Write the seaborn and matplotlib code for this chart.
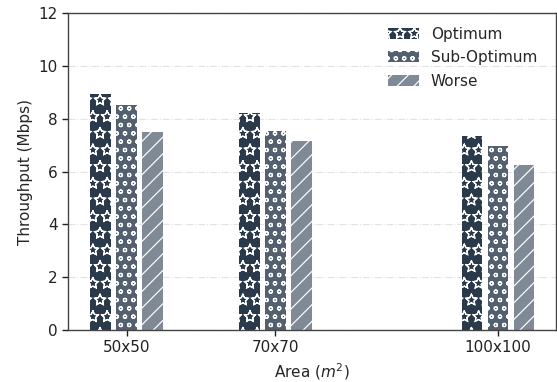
import matplotlib
matplotlib.use("Agg")
import numpy as np
import matplotlib.pyplot as plt
import matplotlib.hatch as mhatch
from matplotlib.path import Path
import seaborn as sns
import pandas as pd

areas = [50, 70, 100]
area_labels = ["50x50", "70x70", "100x100"]
series = ["Optimum", "Sub-Optimum", "Worse"]
optimum = [8.94, 8.20, 7.35]
sub_optimum = [8.52, 7.54, 6.97]
worse = [7.50, 7.14, 6.26]

colors = ["#2a3a4b", "#52606f", "#808a96"]
hatches = ["*", "oo", "//"]


# hollow (outlined) star hatch with the reference's spacing
class HollowStars(mhatch.HatchPatternBase):
    def __init__(self, hatch, density):
        n = hatch.count('*')
        self.nrows = 6 * n
        self.ncols = 7 * n
        star = Path.unit_regular_star(5)
        self.sv = star.vertices
        c = np.full(len(self.sv), Path.LINETO, dtype=Path.code_type)
        c[0] = Path.MOVETO
        self.sc = c
        if n == 0:
            self.num_vertices = 0
        else:
            nshapes = 0
            for row in range(self.nrows + 1):
                nshapes += (self.ncols + 1) if row % 2 == 0 else self.ncols
            self.num_vertices = nshapes * len(self.sv) * 2

    def set_vertices_and_codes(self, vertices, codes):
        r = 0.058
        sv = self.sv * r
        sv = np.concatenate([sv, sv[::-1] * 0.94])
        sc = np.concatenate([self.sc, self.sc])
        k = len(sv)
        idx = 0
        for row in range(self.nrows + 1):
            y = row / self.nrows
            if row % 2 == 0:
                cols = np.linspace(0, 1, self.ncols + 1)
            else:
                cols = np.linspace(0.5 / self.ncols, 1 - 0.5 / self.ncols,
                                   self.ncols)
            for x in cols:
                vertices[idx:idx + k] = sv + (x, y)
                codes[idx:idx + k] = sc
                idx += k


mhatch._hatch_types = [HollowStars if t is mhatch.Stars else t
                       for t in mhatch._hatch_types]

sns.set_style("white")
plt.rcParams["font.family"] = ["DejaVu Sans"]
plt.rcParams["hatch.color"] = "white"
plt.rcParams["hatch.linewidth"] = 0.85

rows = []
for name, vals in zip(series, [optimum, sub_optimum, worse]):
    for a, v in zip(areas, vals):
        rows.append({"area": a, "value": v, "series": name})
df = pd.DataFrame(rows)

fig = plt.figure(figsize=(5.57, 3.82), dpi=100)
ax = fig.add_axes([0.122, 0.136, 0.876, 0.830])

sns.barplot(data=df, x="area", y="value", hue="series", hue_order=series,
            palette=colors, native_scale=True, width=0.525, gap=0.2,
            dodge=True, ax=ax, edgecolor="white", linewidth=0, saturation=1)

for container, h in zip(ax.containers, hatches):
    for p in container:
        p.set_hatch(h)
        p.set_edgecolor("white")
        p.set_linewidth(0)

ax.set_xlim(42.1, 107.8)
ax.set_ylim(0, 12)
ax.set_yticks([0, 2, 4, 6, 8, 10, 12])
ax.set_xticks(areas)
ax.set_xticklabels(area_labels)
ax.tick_params(axis="both", labelsize=11, length=4, width=1, direction="out",
               left=True, bottom=True, colors="#222222")
ax.yaxis.grid(True, linestyle="-.", color="#e2e2e2", linewidth=0.8)
ax.set_axisbelow(True)
for s in ax.spines.values():
    s.set_color("#444444")
    s.set_linewidth(1.0)

ax.set_xlabel("Area ($m^2$)", fontsize=11)
ax.set_ylabel("Throughput (Mbps)", fontsize=11)

leg = ax.legend(loc="upper right", frameon=False, fontsize=11,
                bbox_to_anchor=(0.99, 1.0), handlelength=2.0,
                labelspacing=0.55)
for hnd, h in zip(leg.legend_handles, hatches):
    hnd.set_hatch(h)
    hnd.set_edgecolor("white")
    hnd.set_linewidth(0)

fig.savefig("out.png", dpi=100)
